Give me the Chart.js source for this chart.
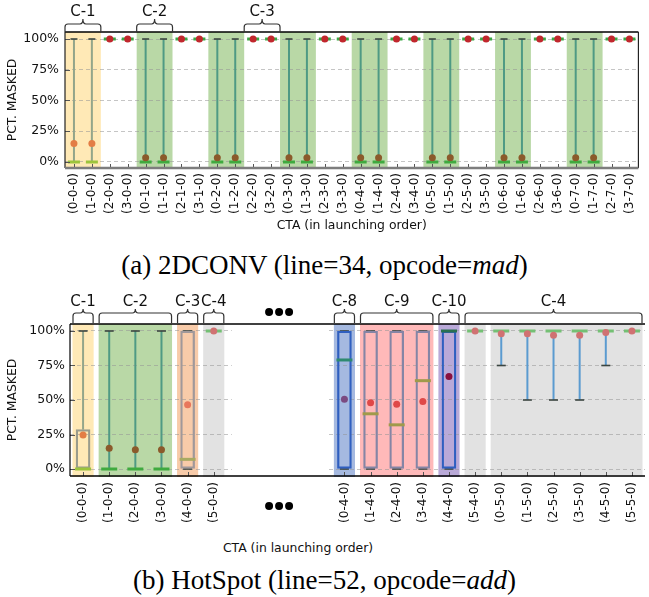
<!DOCTYPE html>
<html><head><meta charset="utf-8">
<script src="https://cdn.jsdelivr.net/npm/chart.js@4/dist/chart.umd.min.js"></script>
<style>
html,body{margin:0;padding:0;background:#fff;overflow:hidden;width:649px;height:597px;}
#wrapA{position:absolute;left:0;top:0;width:649px;height:240px;}
#wrapB{position:absolute;left:0;top:280px;width:656px;height:252px;}
.cap{position:absolute;left:0;width:649px;text-align:center;font-family:"Liberation Serif","Times New Roman",serif;font-size:27px;line-height:30px;color:#000;white-space:nowrap;}
#capA{top:250px;}
#capB{top:565px;}
#xtB{position:absolute;top:540px;left:0;width:596px;text-align:center;font-family:"DejaVu Sans",sans-serif;font-size:12.4px;line-height:15px;color:#111;}
</style>
</head><body>
<div id="wrapA"><canvas id="chartA" width="649" height="240"></canvas></div>
<div class="cap" id="capA">(a) 2DCONV (line=34, opcode=<i>mad</i>)</div>
<div id="wrapB"><canvas id="chartB" width="656" height="252"></canvas></div>
<div id="xtB">CTA (in launching order)</div>
<div class="cap" id="capB">(b) HotSpot (line=52, opcode=<i>add</i>)</div>
<script>
// ---------------- DATA: (a) 2DCONV ----------------
const topCategories = ['(0-0-0)','(1-0-0)','(2-0-0)','(3-0-0)','(0-1-0)','(1-1-0)','(2-1-0)','(3-1-0)',
  '(0-2-0)','(1-2-0)','(2-2-0)','(3-2-0)','(0-3-0)','(1-3-0)','(2-3-0)','(3-3-0)',
  '(0-4-0)','(1-4-0)','(2-4-0)','(3-4-0)','(0-5-0)','(1-5-0)','(2-5-0)','(3-5-0)',
  '(0-6-0)','(1-6-0)','(2-6-0)','(3-6-0)','(0-7-0)','(1-7-0)','(2-7-0)','(3-7-0)'];
const topWhiskerLow  = [0,0,100,100, 0,0,100,100, 0,0,100,100, 0,0,100,100, 0,0,100,100, 0,0,100,100, 0,0,100,100, 0,0,100,100];
const topWhiskerHigh = [100,100,100,100, 100,100,100,100, 100,100,100,100, 100,100,100,100, 100,100,100,100, 100,100,100,100, 100,100,100,100, 100,100,100,100];
const topMedian      = [0,0,100,100, 0,0,100,100, 0,0,100,100, 0,0,100,100, 0,0,100,100, 0,0,100,100, 0,0,100,100, 0,0,100,100];
const topMean        = [15,15,100,100, 3.5,3.5,100,100, 3.5,3.5,100,100, 3.5,3.5,100,100, 3.5,3.5,100,100, 3.5,3.5,100,100, 3.5,3.5,100,100, 3.5,3.5,100,100];
const topBands = [
  {cluster:'C-1', from:0, to:1}, {cluster:'C-2', from:4, to:5}, {cluster:'C-2', from:8, to:9},
  {cluster:'C-2', from:12, to:13}, {cluster:'C-2', from:16, to:17}, {cluster:'C-2', from:20, to:21},
  {cluster:'C-2', from:24, to:25}, {cluster:'C-2', from:28, to:29}];
const topBrackets = [{label:'C-1', from:0, to:1}, {label:'C-2', from:4, to:5}, {label:'C-3', from:10, to:11}];

// ---------------- DATA: (b) HotSpot ----------------
const botCategories = ['(0-0-0)','(1-0-0)','(2-0-0)','(3-0-0)','(4-0-0)','(5-0-0)','','','','',
  '(0-4-0)','(1-4-0)','(2-4-0)','(3-4-0)','(4-4-0)','(5-4-0)',
  '(0-5-0)','(1-5-0)','(2-5-0)','(3-5-0)','(4-5-0)','(5-5-0)'];
const botWhiskerLow  = [0,0,0,0,0,100, null,null,null,null, 0,0,0,0,0,100, 75,50,50,50,75,100];
const botWhiskerHigh = [100,100,100,100,100,100, null,null,null,null, 100,100,100,100,100,100, 100,100,100,100,100,100];
const botQ1          = [0,0,0,0,0,100, null,null,null,null, 0,0,0,0,0,100, 100,100,100,100,100,100];
const botQ3          = [28.5,0,0,0,100,100, null,null,null,null, 100,100,100,100,100,100, 100,100,100,100,100,100];
const botMedian      = [0,0,0,0,7,100, null,null,null,null, 79,40,32,64,100,100, 100,100,100,100,100,100];
const botMean        = [24.6,15,14,14,46.6,100, null,null,null,null, 50.5,48,47,49,67,100, 98,98,97,97,99,100];
const botBands = [
  {cluster:'C-1', from:0, to:0}, {cluster:'C-2', from:1, to:3}, {cluster:'C-3', from:4, to:4},
  {cluster:'C-4', from:5, to:5}, {cluster:'C-8', from:10, to:10}, {cluster:'C-9', from:11, to:13},
  {cluster:'C-10', from:14, to:14}, {cluster:'C-4', from:15, to:15}, {cluster:'C-4', from:16, to:21}];
const botBrackets = [
  {label:'C-1', from:0, to:0}, {label:'C-2', from:1, to:3}, {label:'C-3', from:4, to:4},
  {label:'C-4', from:5, to:5}, {label:'C-8', from:10, to:10}, {label:'C-9', from:11, to:13},
  {label:'C-10', from:14, to:14}, {label:'C-4', from:15, to:21}];
const botGap = {from:6, to:9};

const yTickValues = [0, 25, 50, 75, 100];
const yTitle = 'PCT. MASKED';
const xTitle = 'CTA (in launching order)';

// ---------------- STYLES ----------------
const FONT = "'DejaVu Sans', sans-serif";
const topStyles = {
  'none': {band:null, mean:'#c1272d', median:'#3aa844', whisker:'#4f9a84', box:'#999'},
  'C-1':  {band:'#ffe9b6', mean:'#e37d45', median:'#9cc43c', whisker:'#93a58a', box:'#999'},
  'C-2':  {band:'#b9d8a6', mean:'#8b5a2b', median:'#3faa3f', whisker:'#4f9a84', box:'#999'}
};
const botStyles = {
  'none': {band:null, mean:'#d07070', median:'#74c074', whisker:'#5b9bd0', box:'#999'},
  'C-1':  {band:'#ffe9b6', mean:'#e37d45', median:'#9cc43c', whisker:'#93a58a', box:'#9a9c8c'},
  'C-2':  {band:'#b9d8a6', mean:'#8b5a2b', median:'#3faa3f', whisker:'#4f9a84', box:'#999'},
  'C-3':  {band:'#f8cba9', mean:'#e8775c', median:'#a8aa62', whisker:'#999', box:'#a0989a'},
  'C-4':  {band:'#e2e2e2', mean:'#d07272', median:'#74c074', whisker:'#5b9bd0', box:'#999'},
  'C-8':  {band:'#a5b9e0', mean:'#7b4a80', median:'#2e8a70', whisker:'#2f5fc0', box:'#2f5fc0'},
  'C-9':  {band:'#ffb9b9', mean:'#e04848', median:'#a09a4a', whisker:'#8888a8', box:'#8585a5'},
  'C-10': {band:'#b9a9d8', mean:'#8a1040', median:'#2a7050', whisker:'#2f5fc0', box:'#2f5fc0'}
};

function styleFor(o, i) {
  const b = o.bands.find(b => i >= b.from && i <= b.to);
  return o.styles[b ? b.cluster : 'none'];
}

const decor = {
  id: 'decor',
  beforeDraw(chart, args, o) {
    const {ctx, chartArea: a, scales: {x}} = chart;
    const half = (x.getPixelForValue(1) - x.getPixelForValue(0)) / 2;
    ctx.save();
    for (const b of o.bands) {
      const st = o.styles[b.cluster];
      if (!st.band) continue;
      const x1 = Math.max(x.getPixelForValue(b.from) - half + o.inset, a.left);
      const x2 = Math.min(x.getPixelForValue(b.to) + half - o.inset, a.right);
      ctx.fillStyle = st.band;
      ctx.fillRect(x1, a.top, x2 - x1, a.bottom - a.top + o.bandExtra);
    }
    ctx.restore();
  },
  beforeDatasetsDraw(chart, args, o) {
    const {ctx, chartArea: a, scales: {x, y}} = chart;
    const half = (x.getPixelForValue(1) - x.getPixelForValue(0)) / 2;
    ctx.save();
    if (o.gap) {
      const x1 = x.getPixelForValue(o.gap.from) - half + 5;
      const x2 = x.getPixelForValue(o.gap.to) + half - 5;
      ctx.fillStyle = '#fff';
      ctx.fillRect(x1, a.top + 1, x2 - x1, a.bottom - a.top - 1);
    }
    o.low.forEach((lo, i) => {
      if (lo == null) return;
      const st = styleFor(o, i);
      const hi = o.high[i];
      const px = x.getPixelForValue(i);
      const segs = (o.q1 && o.q3) ? [[lo, o.q1[i]], [o.q3[i], hi]] : [[lo, hi]];
      ctx.strokeStyle = st.whisker;
      ctx.lineWidth = 2;
      for (const [s, e] of segs) {
        if (e - s <= 0) continue;
        ctx.beginPath();
        ctx.moveTo(px, y.getPixelForValue(s));
        ctx.lineTo(px, y.getPixelForValue(e));
        ctx.stroke();
      }
      ctx.strokeStyle = '#3b4540';
      ctx.lineWidth = 1.6;
      for (const v of [lo, hi]) {
        const py = y.getPixelForValue(v);
        ctx.beginPath();
        ctx.moveTo(px - o.capW / 2, py);
        ctx.lineTo(px + o.capW / 2, py);
        ctx.stroke();
      }
    });
    ctx.restore();
  },
  afterDraw(chart, args, o) {
    const {ctx, chartArea: a, scales: {x, y}} = chart;
    const half = (x.getPixelForValue(1) - x.getPixelForValue(0)) / 2;
    ctx.save();
    // inward ticks
    ctx.strokeStyle = '#555';
    ctx.lineWidth = 1;
    for (const v of yTickValues) {
      const py = Math.round(y.getPixelForValue(v)) + 0.5;
      ctx.beginPath(); ctx.moveTo(a.left, py); ctx.lineTo(a.left + 5, py); ctx.stroke();
    }
    chart.data.labels.forEach((lab, i) => {
      if (!lab) return;
      const px = Math.round(x.getPixelForValue(i)) + 0.5;
      ctx.beginPath(); ctx.moveTo(px, a.bottom); ctx.lineTo(px, a.bottom - 4); ctx.stroke();
    });
    // spines
    for (const s of o.spines) {
      ctx.strokeStyle = s.color; ctx.lineWidth = s.width;
      ctx.beginPath();
      if (s.side === 'top') { ctx.moveTo(a.left, a.top); ctx.lineTo(a.right, a.top); }
      if (s.side === 'bottom') { ctx.moveTo(a.left, a.bottom); ctx.lineTo(a.right, a.bottom); }
      if (s.side === 'left') { ctx.moveTo(a.left, a.top); ctx.lineTo(a.left, a.bottom); }
      if (s.side === 'right') { ctx.moveTo(a.right, a.top); ctx.lineTo(a.right, a.bottom); }
      ctx.stroke();
    }
    // brackets
    const B = o.bracketY;
    ctx.strokeStyle = '#333'; ctx.lineWidth = 1.2;
    ctx.fillStyle = '#111';
    ctx.font = '15px ' + FONT;
    ctx.textAlign = 'center'; ctx.textBaseline = 'middle';
    const r = 3;
    for (const b of o.brackets) {
      const x1 = x.getPixelForValue(b.from) - half + o.bracketInset;
      const x2 = x.getPixelForValue(b.to) + half - o.bracketInset;
      const xm = (x1 + x2) / 2;
      ctx.beginPath();
      ctx.moveTo(x1, B.end);
      ctx.lineTo(x1, B.line + r);
      ctx.quadraticCurveTo(x1, B.line, x1 + r, B.line);
      ctx.lineTo(xm - r, B.line);
      ctx.quadraticCurveTo(xm, B.line, xm, B.peak);
      ctx.quadraticCurveTo(xm, B.line, xm + r, B.line);
      ctx.lineTo(x2 - r, B.line);
      ctx.quadraticCurveTo(x2, B.line, x2, B.line + r);
      ctx.lineTo(x2, B.end);
      ctx.stroke();
      ctx.fillText(b.label, xm, B.label);
    }
    // break markers
    if (o.gap) {
      const xc = (x.getPixelForValue(o.gap.from) + x.getPixelForValue(o.gap.to)) / 2;
      ctx.fillStyle = '#000';
      for (const yy of o.dotsY) {
        for (const dx of [-10, 0, 10]) {
          ctx.beginPath(); ctx.arc(xc + dx, yy, 4, 0, Math.PI * 2); ctx.fill();
        }
      }
    }
    ctx.restore();
  }
};

function makeChart(id, d) {
  const o = {bands: d.bands, styles: d.styles};
  const col = key => d.labels.map((_, i) => styleFor(o, i)[key]);
  const datasets = [
    {type:'line', label:'mean', data:d.mean, showLine:false, pointStyle:'circle', pointRadius:3.5,
     pointBackgroundColor:col('mean'), pointBorderColor:col('mean'), pointBorderWidth:0, order:0},
    {type:'line', label:'median', data:d.median, showLine:false, pointStyle:'line', pointRadius:d.medR,
     pointBorderColor:col('median'), pointBackgroundColor:col('median'), pointBorderWidth:3, order:1}
  ];
  if (d.q1) {
    datasets.push({type:'bar', label:'box',
      data: d.labels.map((_, i) => (d.q3[i] != null && d.q3[i] > d.q1[i]) ? [d.q1[i], d.q3[i]] : null),
      backgroundColor:'rgba(0,0,0,0)', borderColor:col('box'), borderWidth:1.6, borderSkipped:false,
      barThickness:14, grouped:false, order:2});
  }
  return new Chart(document.getElementById(id), {
    type:'bar',
    data:{labels:d.labels, datasets},
    options:{
      responsive:false, animation:false, events:[],
      layout:{padding:d.padding},
      plugins:{
        legend:{display:false}, tooltip:{enabled:false},
        decor:{bands:d.bands, styles:d.styles, inset:d.inset, bandExtra:d.bandExtra, low:d.low, high:d.high,
               q1:d.q1, q3:d.q3, capW:d.capW, gap:d.gap, dotsY:d.dotsY, spines:d.spines,
               brackets:d.brackets, bracketY:d.bracketY, bracketInset:d.bracketInset}
      },
      scales:{
        x:{type:'category', offset:true,
           grid:{display:false, drawTicks:false}, border:{display:false},
           ticks:{autoSkip:false, minRotation:90, maxRotation:90, padding:d.xPad, color:'#111',
                  font:{family:FONT, size:12}},
           title:{display:d.showXTitle, text:xTitle, color:'#111', font:{family:FONT, size:12.4},
                  padding:{top:0, bottom:6.5}},
           afterFit:s => { s.height = d.xHeight; }},
        y:{type:'linear', min:d.yMin, max:d.yMax,
           afterBuildTicks:s => { s.ticks = yTickValues.map(v => ({value:v})); },
           grid:{color:'rgba(150,150,150,0.55)', lineWidth:1, drawTicks:false},
           border:{display:false, dash:[4,3]},
           ticks:{padding:d.yPad, color:'#111', font:{family:FONT, size:12.5}, callback:v => v + '%'},
           title:{display:true, text:yTitle, color:'#111', font:{family:FONT, size:12.4},
                  padding:{top:5.5, bottom:0}},
           afterFit:s => { s.width = d.yWidth; }}
      }
    },
    plugins:[decor]
  });
}

makeChart('chartA', {
  labels:topCategories, low:topWhiskerLow, high:topWhiskerHigh, median:topMedian, mean:topMean,
  q1:null, q3:null, bands:topBands, styles:topStyles, brackets:topBrackets,
  padding:{left:0, right:8, top:32, bottom:0}, yWidth:65, xHeight:72, xPad:5, yPad:6,
  yMin:-4.9, yMax:105.7, medR:6, capW:7, inset:0, bandExtra:0, bracketInset:0,
  bracketY:{end:32, line:24, peak:19, label:12}, gap:null, dotsY:[], showXTitle:true,
  spines:[{side:'top', color:'#000', width:1.3}, {side:'right', color:'#222', width:1.2},
          {side:'left', color:'#222', width:1.2}, {side:'bottom', color:'#7d7d7d', width:2.5}]
});

makeChart('chartB', {
  labels:botCategories, low:botWhiskerLow, high:botWhiskerHigh, median:botMedian, mean:botMean,
  q1:botQ1, q3:botQ3, bands:botBands, styles:botStyles, brackets:botBrackets,
  padding:{left:0, right:4, top:44, bottom:0}, yWidth:70, xHeight:56, xPad:6, yPad:5,
  yMin:-5.07, yMax:105.07, medR:8, capW:9, inset:2.5, bandExtra:1, bracketInset:3,
  bracketY:{end:43, line:33, peak:29, label:22}, gap:botGap, dotsY:[32, 226], showXTitle:false,
  spines:[{side:'top', color:'#000', width:1.6}, {side:'bottom', color:'#000', width:1.6},
          {side:'left', color:'#000', width:1.2}]
});
</script>
</body></html>
